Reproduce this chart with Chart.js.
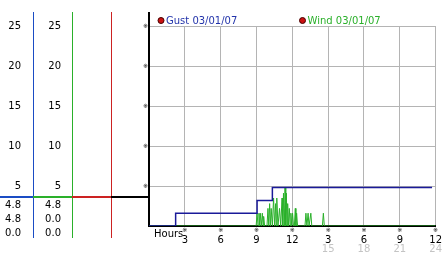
<!DOCTYPE html>
<html>
<head>
<meta charset="utf-8">
<script src="https://cdn.jsdelivr.net/npm/chart.js@4/dist/chart.umd.min.js"></script>
<style>
  body { margin: 0; background: #fff; }
  #wrap { position: relative; width: 442px; height: 253px; }
</style>
</head>
<body>
<div id="wrap"><canvas id="wind" width="442" height="253"></canvas></div>
<script>
// gust: stepped line, hours since midnight
const gustHours = [0, 2.23, 2.23, 9.05, 9.05, 10.33, 10.33, 23.7];
const gustSpeeds = [0, 0, 1.6, 1.6, 3.2, 3.2, 4.8, 4.8];

// wind: short spikes between 9am and 3pm
const windHours = [0, 8.97, 9.05, 9.13, 9.21, 9.27, 9.32, 9.40, 9.49, 9.55, 9.60, 9.68,
  9.88, 9.96, 10.03, 10.10, 10.17, 10.23, 10.33, 10.43, 10.52, 10.60, 10.65, 10.70, 10.80,
  10.93, 11.03, 11.14, 11.20, 11.26, 11.33, 11.39, 11.45, 11.50, 11.56, 11.61, 11.68, 11.75,
  11.82, 11.88, 11.95, 12.02, 12.10, 12.17, 12.25, 12.30, 12.36, 12.44,
  13.06, 13.14, 13.22, 13.32, 13.40, 13.47, 13.55, 13.63, 14.52, 14.60, 14.68, 24];
const windSpeeds = [0, 0, 1.6, 0, 1.6, 0, 1.6, 0, 1.6, 0, 1.2, 0,
  0, 2.2, 0, 2.8, 0, 2.2, 0, 3.5, 0, 2.8, 0, 3.5, 0,
  2.2, 0, 3.5, 0, 4.1, 0, 4.8, 0, 4.1, 0, 2.8, 0, 2.2,
  0, 1.6, 0, 1.6, 0, 0, 2.2, 0, 1.6, 0,
  0, 1.6, 0, 1.6, 0, 0, 1.6, 0, 0, 1.6, 0, 0];

const speedTicks = [25, 20, 15, 10, 5];
const hourTicks = [3, 6, 9, 12, 15, 18, 21, 24];
const hour24Ticks = [15, 18, 21, 24];
const gustReadings = ["4.8", "4.8", "0.0"];
const windReadings = ["4.8", "0.0", "0.0"];
const legendNames = ["Gust 03/01/07", "Wind 03/01/07"];

const gustColor = "#1a1a99";
const windColor = "#2ab02a";
const blueRule = "#1a4cc4";
const redRule = "#cc2222";
const gridColor = "#b4b4b4";
const font = "DejaVu Sans";

function toPoints(xs, ys) {
  return xs.map((x, i) => ({ x: x, y: ys[i] }));
}

const sidePanel = {
  id: "sidePanel",
  afterDraw(chart) {
    const ctx = chart.ctx;
    const y = chart.scales.y;
    const area = chart.chartArea;
    ctx.save();

    // coloured column rules
    const rules = [[33, blueRule], [72, windColor], [111, redRule]];
    rules.forEach(([x, c]) => {
      ctx.fillStyle = c;
      ctx.fillRect(x, 12, 1, 226);
    });
    // black axis runs above the plot
    ctx.strokeStyle = "#000";
    ctx.lineWidth = 2;
    ctx.beginPath();
    ctx.moveTo(area.left, 12);
    ctx.lineTo(area.left, area.top);
    ctx.stroke();

    // separator
    const segs = [[0, 33, blueRule], [33, 72, windColor], [72, 111, redRule], [111, area.left, "#000"]];
    segs.forEach(([a, b, c]) => {
      ctx.strokeStyle = c;
      ctx.beginPath();
      ctx.moveTo(a, 197);
      ctx.lineTo(b, 197);
      ctx.stroke();
    });

    ctx.fillStyle = "#000";
    ctx.font = "10px '" + font + "'";
    ctx.textAlign = "right";
    ctx.textBaseline = "middle";
    speedTicks.forEach(v => {
      const py = y.getPixelForValue(v);
      ctx.fillText(String(v), 21, py);
      ctx.fillText(String(v), 61, py);
    });
    const rows = [205, 219, 233];
    rows.forEach((py, i) => {
      ctx.fillText(gustReadings[i], 21, py);
      ctx.fillText(windReadings[i], 61, py);
    });

    ctx.textAlign = "left";
    ctx.fillText("Hours", chart.scales.x.getPixelForValue(0) + 5, 234);

    // legend
    const legendX = [161, 302.5];
    const legendColors = ["#2233aa", windColor];
    legendNames.forEach((name, i) => {
      ctx.beginPath();
      ctx.arc(legendX[i], 20.5, 3, 0, Math.PI * 2);
      ctx.fillStyle = "#cc1111";
      ctx.fill();
      ctx.strokeStyle = "#400";
      ctx.lineWidth = 1;
      ctx.stroke();
      ctx.fillStyle = legendColors[i];
      ctx.fillText(name, legendX[i] + 5, 21);
    });
    ctx.restore();
  }
};

new Chart(document.getElementById("wind"), {
  type: "line",
  data: {
    datasets: [
      {
        label: legendNames[0],
        data: toPoints(gustHours, gustSpeeds),
        borderColor: gustColor,
        borderWidth: 1.5,
        pointRadius: 0,
        tension: 0
      },
      {
        label: legendNames[1],
        data: toPoints(windHours, windSpeeds),
        borderColor: windColor,
        borderWidth: 1,
        pointRadius: 0,
        tension: 0
      }
    ]
  },
  options: {
    responsive: false,
    animation: false,
    devicePixelRatio: 1,
    layout: { padding: { left: 141, top: 26, right: 2, bottom: 0 } },
    plugins: { legend: { display: false }, tooltip: { enabled: false } },
    scales: {
      x: {
        type: "linear", min: 0, max: 24, position: "bottom",
        grid: { color: gridColor, drawTicks: false },
        border: { color: "#000", width: 2 },
        ticks: {
          stepSize: 3, padding: 1, maxRotation: 0, autoSkip: false,
          color: "#000", font: { family: font, size: 6 },
          callback: v => v === 0 ? "" : "※"
        },
        afterFit: s => { s.height = 8; }
      },
      xNum: {
        type: "linear", min: 0, max: 24, position: "bottom",
        grid: { display: false, drawTicks: false }, border: { display: false },
        ticks: {
          padding: 0, maxRotation: 0, autoSkip: false,
          color: "#000", font: { family: font, size: 10 },
          callback: v => v === 0 ? "" : String(v % 12 || 12)
        },
        afterBuildTicks: s => { s.ticks = hourTicks.map(v => ({ value: v })); },
        afterFit: s => { s.height = 9; }
      },
      xDay: {
        type: "linear", min: 0, max: 24, position: "bottom",
        grid: { display: false, drawTicks: false }, border: { display: false },
        ticks: {
          padding: 0, maxRotation: 0, autoSkip: false,
          color: "#c4c4c4", font: { family: font, size: 10 },
          callback: v => String(v)
        },
        afterBuildTicks: s => { s.ticks = hour24Ticks.map(v => ({ value: v })); },
        afterFit: s => { s.height = 10; }
      },
      y: {
        type: "linear", min: 0, max: 25, position: "left",
        grid: { color: gridColor, drawTicks: false },
        border: { color: "#000", width: 2 },
        ticks: {
          stepSize: 5, padding: 1,
          color: "#000", font: { family: font, size: 6 },
          callback: v => v === 0 ? "" : "※"
        },
        afterFit: s => { s.width = 8; }
      }
    }
  },
  plugins: [sidePanel]
});
</script>
</body>
</html>
